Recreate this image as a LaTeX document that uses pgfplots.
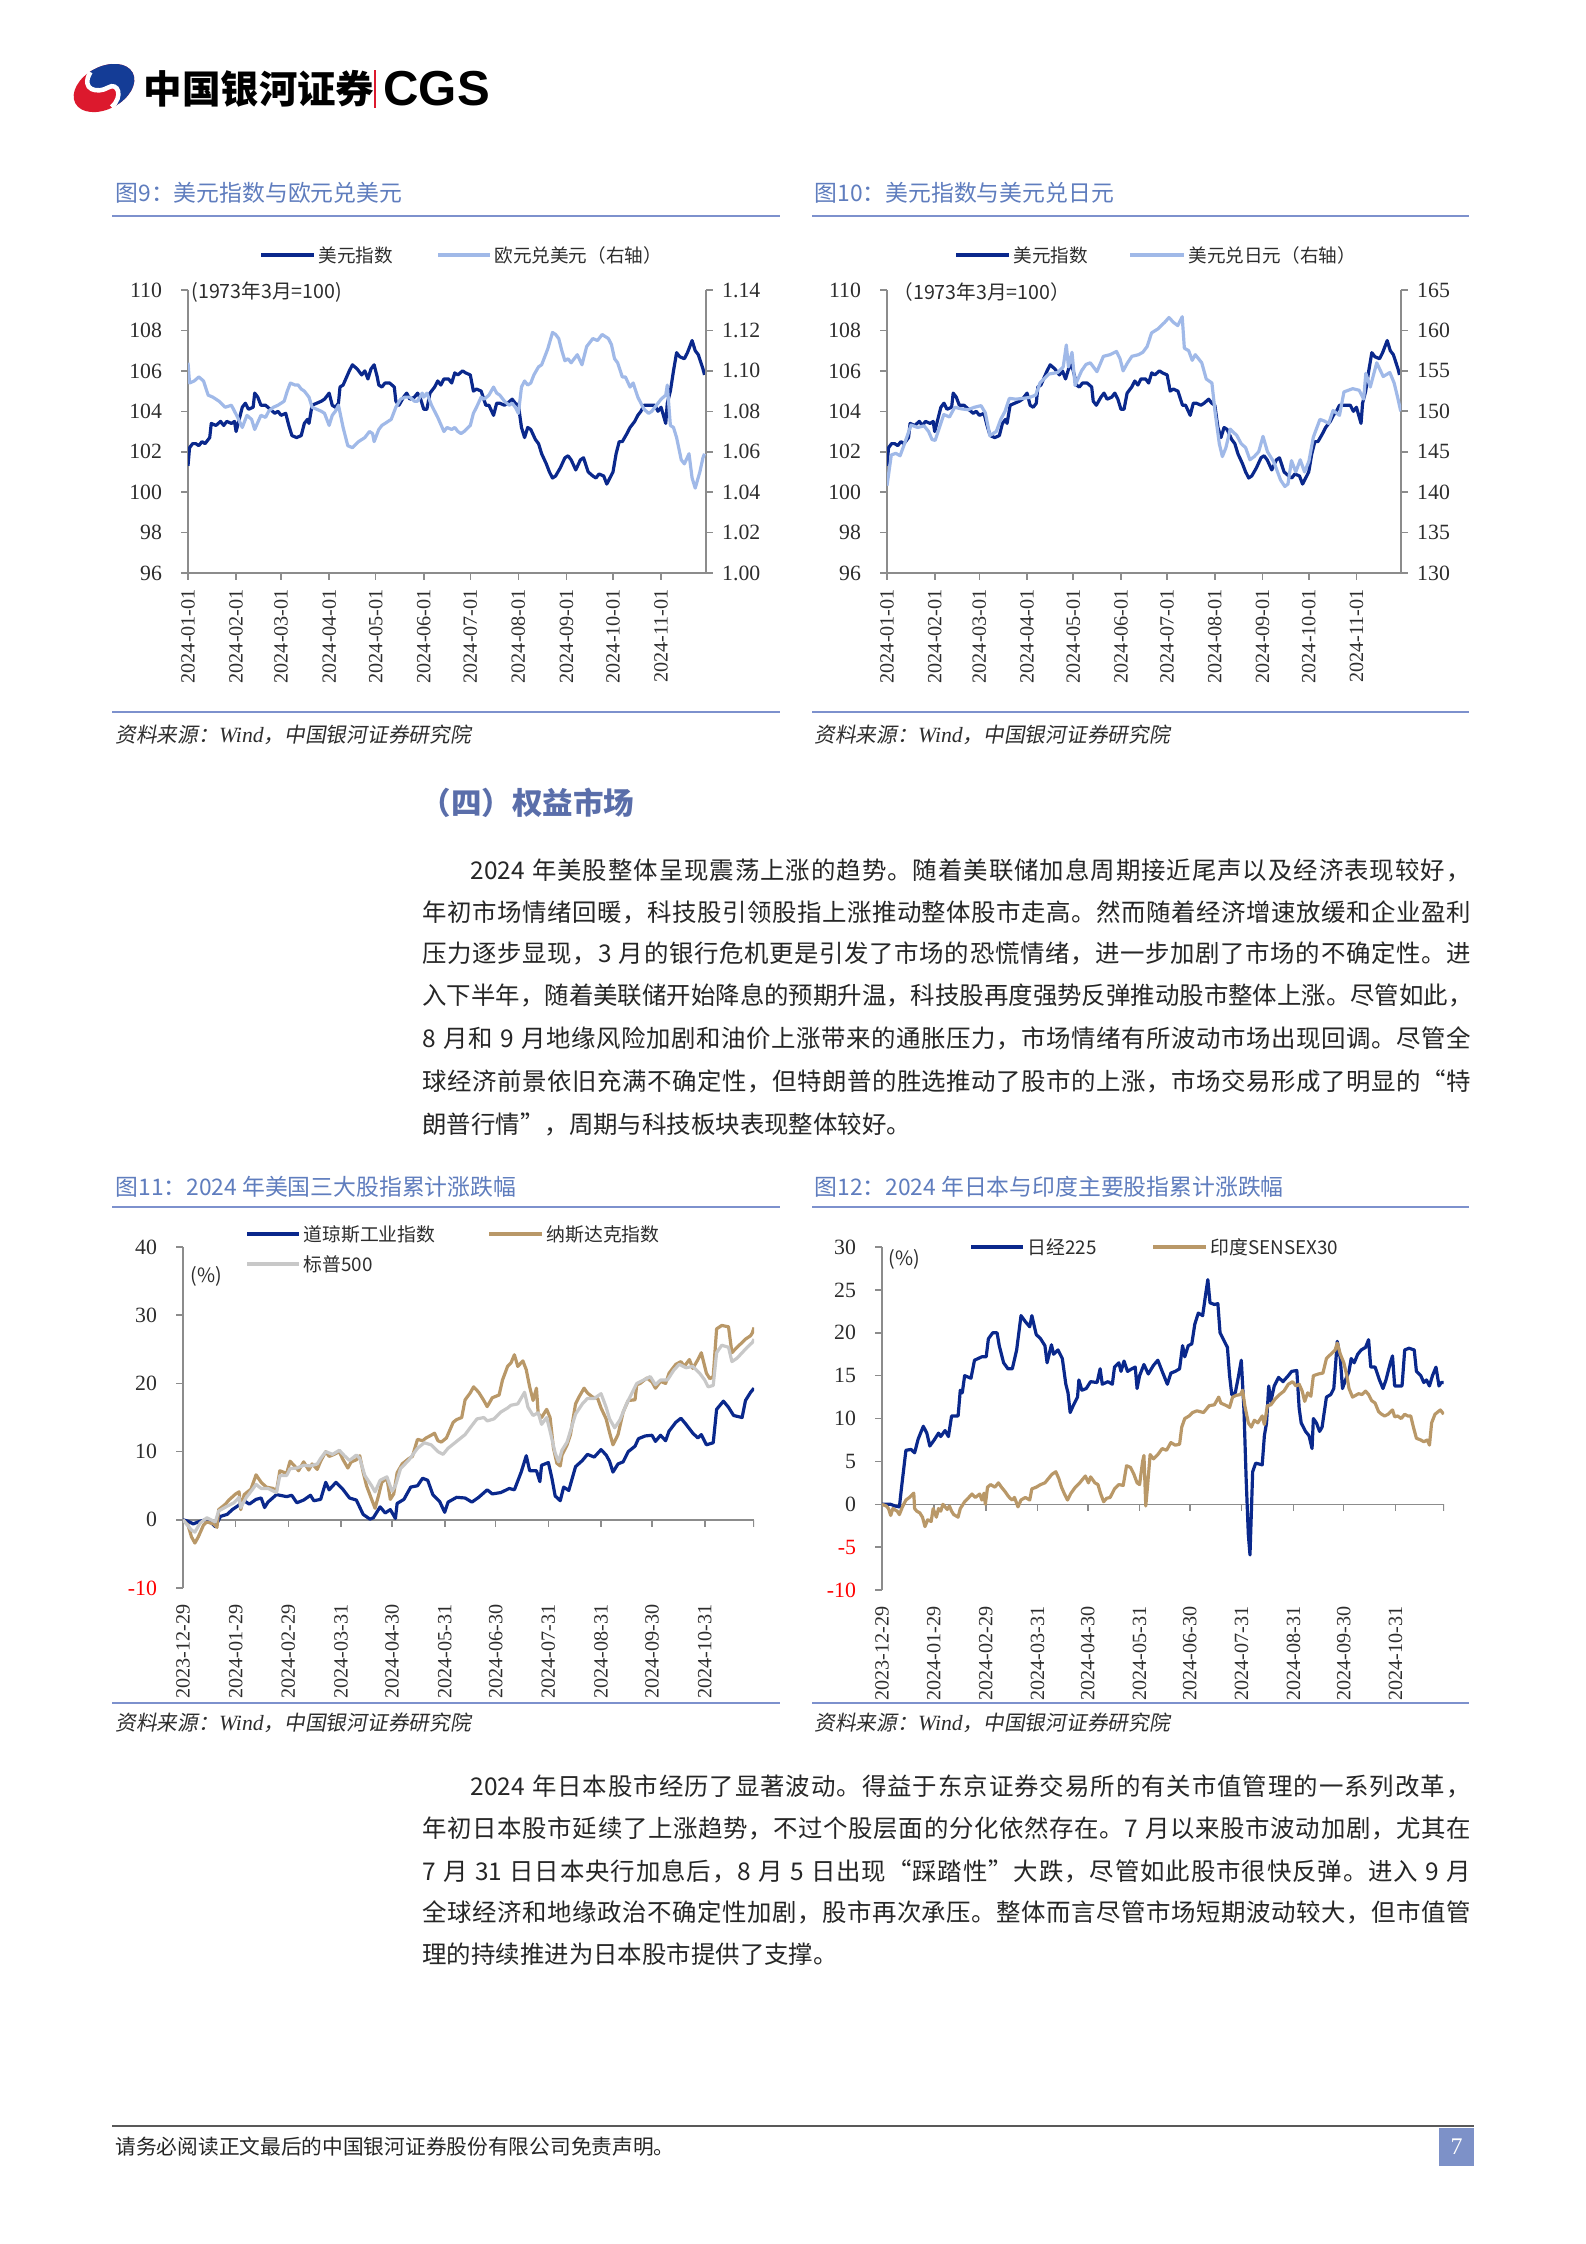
\documentclass[border=0pt]{standalone}
\usepackage{pgfplots}
\pgfplotsset{compat=1.18}
\usepackage{pgfplotstable}
\usepackage{fontspec}
\setmainfont{Liberation Serif}
\newfontfamily\cjk{Noto Sans CJK SC}
\newfontfamily\cjkit[FakeSlant=0.18]{Noto Sans CJK SC}
\newfontfamily\arial{Liberation Sans}
\newcount\cjkc
\cjkc="4E00
\loop \XeTeXcharclass\cjkc=7 \advance\cjkc by 1 \ifnum\cjkc<"A000 \repeat
\XeTeXcharclass"FF0C=7 \XeTeXcharclass"3002=7 \XeTeXcharclass"3001=7
\XeTeXcharclass"201C=7 \XeTeXcharclass"201D=7 \XeTeXcharclass"FF1A=7
\XeTeXcharclass"FF08=7 \XeTeXcharclass"FF09=7
\XeTeXinterchartoks 7 7 = {\hskip 0pt plus 3pt\relax}
\XeTeXinterchartoks 0 7 = {\hskip 0pt plus 3pt\relax}
\XeTeXinterchartoks 7 0 = {\hskip 0pt plus 3pt\relax}
\newcommand\jline[2]{\hbox to #1{\spaceskip=0.3em\relax\XeTeXinterchartokenstate=1 #2}}
\def\pxu{0.132408mm}
\newcommand\fsz[1]{\fontsize{#1}{#1}\selectfont}
\definecolor{navy}{RGB}{10,40,140}
\definecolor{lblue}{RGB}{160,185,232}
\definecolor{gold}{RGB}{185,152,104}
\definecolor{lgray}{RGB}{200,200,200}
\definecolor{ttl}{RGB}{95,125,190}
\definecolor{rulec}{RGB}{125,145,205}
\definecolor{axgray}{RGB}{140,140,140}
\definecolor{txt}{RGB}{45,45,45}
\definecolor{head}{RGB}{90,110,170}
\definecolor{pgbox}{RGB}{125,145,200}
\definecolor{cgsred}{RGB}{220,25,45}
\definecolor{cgsblue}{RGB}{20,60,150}

\pgfplotstableread{
d v
0 101.3
1 102.2
3 102.4
5 102.4
7 102.3
9 102.5
11 102.4
14 102.7
15 103.4
18 103.3
21 103.5
23 103.3
25 103.5
28 103.4
30 103.5
31 103.0
33 103.6
35 104.2
37 104.4
39 104.1
42 104.2
43 104.9
45 104.7
47 104.3
50 104.3
53 104.1
56 103.9
58 104.0
60 103.8
63 103.9
65 103.3
67 102.8
70 102.7
73 102.8
75 103.4
77 103.6
78 103.4
80 104.3
83 104.4
86 104.5
88 104.6
91 104.9
93 104.3
95 104.2
97 104.4
98 105.2
100 105.3
104 106.0
106 106.3
109 106.1
112 105.8
114 106.0
116 105.6
118 106.1
120 106.3
122 105.7
123 105.3
125 105.2
127 105.4
130 105.4
133 105.2
134 104.5
136 104.3
139 104.7
141 104.9
143 104.6
146 104.7
148 104.9
150 104.6
152 104.1
154 104.1
156 104.9
159 105.2
161 105.5
163 105.3
165 105.6
168 105.6
170 105.4
172 105.9
174 105.8
177 106.0
179 105.9
182 105.8
184 105.0
186 105.1
189 105.0
192 104.3
194 104.3
197 103.8
199 104.4
201 104.4
204 104.3
206 104.4
209 104.6
211 104.4
213 104.3
215 103.2
217 102.7
219 103.2
221 103.1
224 102.6
226 102.4
228 101.9
231 101.4
233 101.0
235 100.7
237 100.8
240 101.2
243 101.7
245 101.8
247 101.6
250 101.1
253 101.6
255 101.7
258 101.0
261 100.8
263 100.7
265 100.9
268 100.8
270 100.4
272 100.7
274 101.0
276 101.9
278 102.5
280 102.5
283 102.9
285 103.2
288 103.5
290 103.8
292 104.0
294 104.3
296 104.3
299 104.3
301 104.3
303 104.0
305 104.2
308 103.4
309 104.4
311 105.0
313 106.0
315 106.9
317 106.7
320 106.6
322 106.9
325 107.5
327 107.0
329 106.8
332 106.1
333 105.8
}\dxy

\pgfplotstableread{
d v
0 1.104
1 1.094
4 1.095
7 1.097
10 1.095
13 1.088
16 1.087
20 1.085
24 1.082
28 1.083
30 1.080
32 1.077
35 1.072
38 1.078
41 1.076
43 1.071
47 1.078
50 1.077
52 1.080
55 1.082
58 1.083
62 1.085
64 1.090
66 1.094
69 1.093
71 1.093
73 1.091
75 1.090
78 1.087
80 1.082
83 1.081
86 1.080
88 1.079
91 1.073
93 1.078
95 1.080
97 1.083
100 1.072
103 1.063
106 1.062
110 1.065
114 1.067
117 1.070
119 1.069
120 1.065
123 1.071
125 1.073
127 1.074
131 1.076
134 1.082
137 1.086
140 1.087
143 1.087
146 1.085
148 1.085
151 1.089
152 1.087
154 1.089
157 1.083
159 1.080
161 1.077
165 1.070
167 1.072
170 1.071
172 1.072
174 1.070
176 1.069
178 1.070
182 1.073
184 1.079
186 1.082
189 1.087
191 1.086
194 1.088
197 1.092
199 1.089
201 1.088
204 1.085
207 1.083
209 1.084
211 1.082
213 1.079
215 1.092
217 1.095
219 1.093
221 1.094
223 1.098
226 1.102
228 1.103
232 1.111
235 1.119
237 1.118
239 1.116
241 1.110
243 1.105
245 1.106
247 1.104
249 1.106
251 1.108
254 1.103
257 1.112
259 1.114
261 1.116
264 1.115
267 1.118
269 1.117
271 1.116
273 1.113
275 1.106
277 1.104
280 1.097
282 1.097
285 1.092
287 1.094
290 1.087
292 1.084
294 1.081
297 1.079
299 1.080
301 1.082
303 1.084
305 1.086
308 1.088
309 1.093
311 1.073
313 1.072
315 1.067
318 1.056
320 1.054
323 1.059
325 1.047
327 1.042
330 1.050
332 1.057
333 1.059
}\eur

\pgfplotstableread{
d v
0 140.8
2.8 144.6
5.7 144.8
8.5 144.5
11.4 146.0
15.6 148.3
19.9 148.0
24.1 148.2
27 147.5
29.3 146.5
31.3 146.4
34.1 148.0
36.9 149.6
40.6 149.3
44 150.5
48.3 150.3
52.6 150.2
56.8 150.5
61.1 150.7
63.9 149.8
66.8 147.0
71 147.5
73.9 149.0
76.7 150.0
79.5 151.6
83.8 151.5
88.1 151.6
92.3 151.7
96.6 152.0
99.4 153.5
105.1 154.6
110.8 154.8
114.5 155.5
116.5 158.2
117.9 155.5
120.2 157.3
122.2 153.2
126.4 155.0
129.3 155.8
132.1 156.0
136.4 154.9
140.6 156.8
144.9 157.0
149.1 157.4
151.4 156.5
153.4 155.0
156.3 156.0
159.1 156.8
163.4 157.0
166.2 157.3
169 158.0
171.9 159.7
176.1 160.2
180.4 161.0
183.2 161.6
186.1 161.0
188.9 160.6
191.8 161.7
193.2 157.8
196 157.5
198.3 156.3
200.3 157.0
204.5 156.0
207.4 154.0
211.1 153.5
213.1 150.0
215.9 146.0
217.9 144.4
220.2 145.5
223 147.8
227.3 147.0
230.1 146.0
233 145.5
235.8 144.0
238.6 144.4
241.5 145.0
244.3 146.9
247.2 145.0
251.4 143.7
255.7 141.5
258.5 140.7
260.5 141.0
262.8 143.9
265.6 142.5
268.5 144.0
271.3 142.5
274.1 143.8
277 146.8
281.3 149.0
284.1 148.8
287 148.5
289.8 150.1
294 149.5
296.9 152.4
302.6 152.8
306.8 152.6
309.7 151.5
311.1 154.7
314 153.0
318.2 156.0
322.4 154.3
326.7 154.8
329.5 153.5
331.8 151.7
333.8 150.0
}\jpy

\pgfplotstableread{
d v
0 0
3 -0.2
6 -0.6
9 -0.3
13 0.0
17 -0.5
19 -1.0
22 0.5
26 0.8
29 1.5
32 2.0
36 2.8
39 2.3
43 3.0
46 3.2
48 1.8
50 2.6
55 3.7
61 3.4
64 3.6
67 2.5
71 2.9
75 3.6
77 2.8
81 3.0
84 5.5
86 4.4
90 5.5
94 4.5
98 3.2
102 2.9
106 0.8
110 0.1
112 0.3
116 1.9
119 1.0
122 1.5
125 0.2
126 2.4
130 3.0
134 4.8
138 5.0
141 6.1
144 5.8
147 3.7
151 2.7
154 1.1
156 2.6
161 3.3
166 3.2
170 2.6
174 3.3
179 4.4
182 3.8
187 4.0
192 4.6
195 4.4
199 7.0
202 9.4
204 7.2
208 7.2
210 5.6
211 8.0
215 8.4
217 6.2
219 3.5
222 2.8
224 4.8
227 4.3
231 7.8
235 8.7
238 9.6
242 9.2
246 10.3
249 9.5
251 8.6
253 7.0
256 8.2
259 8.5
262 10.0
266 10.8
268 11.9
272 12.3
276 12.4
278 11.5
281 12.4
284 11.6
286 13.0
290 14.3
293 14.9
296 14.0
300 12.7
303 12.0
305 12.5
308 11.0
312 11.3
314 16.2
318 17.4
321 16.5
324 15.3
329 15.0
331 17.5
334 18.7
335 19.0
336 19.3
}\dow

\pgfplotstableread{
d v
0 0
3 -0.8
5 -2.5
7 -3.4
9 -2.5
12 -0.8
14 -0.3
18 -0.6
20 -1.1
21 1.5
25 2.3
27 2.9
31 3.8
33 4.1
34 1.5
36 3.7
40 4.5
43 6.6
46 5.5
49 4.8
53 4.6
55 4.2
57 7.2
61 6.8
63 8.6
66 7.8
68 7.2
71 8.5
74 7.3
76 8.2
79 7.4
81 8.6
84 10.0
86 9.3
89 9.6
92 10.0
94 8.9
97 7.6
99 8.5
102 8.8
104 9.4
106 7.0
108 5.0
111 3.0
113 1.7
115 3.5
117 5.5
120 6.1
122 3.0
124 3.8
126 6.9
129 8.2
133 9.0
135 9.3
138 11.8
141 11.6
143 12.0
146 12.4
148 12.7
150 11.6
152 11.4
155 12.0
159 14.3
161 14.7
164 15.0
166 17.6
169 18.6
171 19.5
174 18.7
177 17.5
179 16.6
182 17.9
186 18.3
188 20.5
191 22.5
193 23.0
195 24.2
197 22.5
200 23.3
202 22.0
204 19.5
206 17.5
208 19.3
209 15.6
211 15.0
214 16.2
216 15.0
218 10.5
220 8.3
222 7.9
223 9.5
226 11.0
228 12.5
231 17.0
233 18.0
236 19.3
238 18.6
241 18.0
244 17.8
246 16.4
249 14.8
251 12.8
253 11.0
256 12.5
259 15.8
262 17.5
266 17.6
267 19.8
269 20.0
273 20.8
276 20.2
278 19.3
281 20.3
284 20.0
286 21.5
290 22.8
293 23.2
295 22.5
298 23.5
300 22.2
303 23.5
305 24.5
308 21.5
310 20.7
312 21.0
314 28.0
317 28.5
321 28.3
323 24.5
326 25.3
329 26.0
331 26.5
334 27.0
335 27.4
336 28.2
}\nasdaq

\pgfplotstableread{
d v
0 0
5 -1.5
7 -1.8
10 -0.5
14 0.3
19 -0.3
21 1.3
26 2.0
30 2.5
33 3.3
34 1.8
37 3.2
41 4.5
43 5.2
46 4.6
50 4.6
55 4.0
57 6.5
61 6.5
63 7.5
67 7.6
71 8.0
75 7.9
79 8.2
81 9.0
84 10.0
88 9.6
92 10.2
95 9.4
98 8.7
102 9.5
104 9.0
107 6.5
111 5.0
113 4.1
116 5.8
120 6.3
123 4.2
125 5.0
128 7.5
133 8.8
138 10.5
142 11.3
146 11.0
150 10.0
153 9.6
156 10.5
161 11.5
166 12.5
169 13.5
173 14.8
177 15.0
179 14.5
183 14.8
187 15.8
191 16.4
193 16.8
197 17.0
201 18.7
203 16.5
206 15.3
209 15.7
211 14.0
214 15.0
216 13.0
219 9.8
221 8.5
223 10.2
226 11.4
231 15.5
235 17.0
238 17.8
242 17.8
246 18.5
249 16.5
251 14.8
254 13.5
257 14.6
261 17.0
264 18.5
267 20.0
271 20.5
275 21.0
278 19.8
281 20.5
285 20.5
289 22.0
292 22.8
296 22.3
300 22.5
304 21.5
307 20.5
309 19.5
312 19.7
314 24.5
317 25.6
321 25.3
323 23.2
326 23.7
329 24.5
332 25.3
335 26.0
336 26.5
}\spx

\pgfplotstableread{
d v
0 0
5.2 0
7.8 -0.2
10.4 -0.3
11.7 2.0
14.3 6.3
17.4 6.4
19.5 6.0
21.6 7.6
24.7 9.1
26.8 8.3
28.6 6.8
31.2 7.5
33.8 8.3
35.1 7.9
37.7 8.6
39.7 7.9
41.6 10.3
45.5 10.3
46.8 13.3
48 13.0
49.4 15.0
53.2 14.7
55.3 16.8
59.7 17.2
62.3 17.2
63.6 19.3
66.2 20.0
68.8 20.0
70.1 18.5
72.7 16.5
75.3 15.8
77.9 15.8
80.5 18.0
83.1 22.0
85.7 21.3
88.3 20.7
89.6 22.0
92.2 19.8
94.8 19.3
97.4 18.5
98.7 16.5
101.3 18.6
102.6 17.5
105.2 18.0
107.8 17.0
109.9 14.0
111.2 13.0
112.5 10.7
114.3 11.5
116.9 12.5
117.7 14.5
119.5 13.3
122.1 13.5
124.7 14.3
128.6 14.2
130.4 15.8
131.7 14.0
135.1 14.3
137.7 14.0
139 16.0
141.6 16.5
142.9 15.5
144.7 16.7
146.8 15.5
149.4 15.8
151.4 16.0
152.5 13.5
154 15.0
156.6 16.3
159.2 15.2
162.3 16.2
164.9 16.8
167.5 15.5
170.6 14.0
172.7 15.3
175.3 15.5
177.9 15.8
179.7 18.5
181 17.2
183.1 18.5
185.2 18.7
187 21.0
189.1 22.3
191.7 22.0
193.5 24.5
194.8 26.2
196.1 23.5
198.7 23.3
200.8 23.4
202.1 20.0
203.9 19.3
206.5 18.3
207.8 15.0
209.1 12.8
211.2 13.0
213 14.8
214.8 16.8
216.4 11.0
217.7 3.0
219 -3.5
220 -5.9
221.6 3.8
223.4 4.8
227.3 4.6
228.6 8.0
229.9 9.5
231.2 13.8
232.5 12.0
234.5 13.8
237.1 14.8
239.7 14.3
242.9 15.0
244.9 15.5
248 15.6
249.4 11.2
250.6 9.5
253.2 8.5
255.3 8.0
257.1 6.5
257.9 10.0
259.7 9.5
261.6 8.5
263.1 9.0
265.7 12.5
268.3 12.8
270.1 13.5
272.2 19.0
274 17.0
275.3 13.5
277.1 14.5
279.2 15.5
280.5 17.0
282.3 16.5
284.4 17.5
286.5 18.0
289.1 18.3
290.9 19.2
292.2 16.0
294.8 16.0
297.4 14.5
299.5 13.5
301.3 14.5
303.9 16.5
305.2 17.3
306.5 13.8
309.1 13.8
310.9 13.8
312.5 18.0
315.1 18.2
318.2 18.0
319.5 15.5
322.1 15.0
323.9 14.2
325.5 14.5
327.3 13.8
329.1 15.0
331.2 16.0
333 13.8
334.3 14.2
335.8 14.2
}\nikkei

\pgfplotstableread{
d v
0 0
2.6 -0.2
3.9 -0.5
5.2 -1.3
6.5 -0.5
9.1 -0.8
10.4 -1.2
12.2 -0.3
14.3 0.5
16.4 0.8
19 1.3
19.5 -0.5
20.8 -0.8
22.6 -1.0
24.2 -1.5
25.7 -2.6
27.3 -1.8
29.4 -2.0
30.6 -0.5
32.5 -1.5
33.8 -0.5
35.1 -0.8
36.4 0
37.7 -0.3
39 -0.6
40.3 -0.2
41.6 -0.8
42.9 -1.2
45.5 -1.5
46.8 -0.5
49.4 0.3
51.9 0.8
53.8 1.2
55.8 0.8
58.4 1.2
59.7 0.5
61 1.3
61.8 0
63.1 2.0
64.9 2.3
67.5 2.0
69.6 2.5
71.4 2.0
73.5 1.5
75.3 1.0
76.6 0.7
77.9 0.5
79.2 0.8
81.3 -0.3
83.1 0.5
85.7 0.8
88.3 0.5
89.6 1.8
92.2 2.0
94.8 2.3
97.4 2.5
99.5 3.0
101.6 3.5
103.9 3.8
105.7 3.0
107.3 2.0
109.1 1.2
110.9 0.5
113 1.3
115.6 2.0
118.2 2.5
120.3 3.0
121.6 3.3
123.4 2.5
124.7 3.2
127.3 2.5
129.1 2.3
130.6 1.3
132.5 0.3
134.3 0.7
136.4 0.8
139 1.8
141.6 2.3
144.2 2.2
146.2 4.5
148.6 4.3
150.6 3.5
152.5 2.5
154 2.3
155.8 5.0
156.6 5.7
157.7 -0.2
158.7 2.0
160.3 5.8
162.3 5.3
164.9 5.8
167.5 6.5
170.1 6.3
172.7 7.2
175.3 6.9
177.9 7.0
179.2 9.0
181 10.0
183.6 10.3
185.7 10.7
188.3 10.9
192.2 10.7
193.5 11.0
195.6 11.5
198.7 11.6
201.3 12.5
202.6 11.8
206 11.5
207.8 11.3
209.6 12.5
211.7 12.7
214.3 12.8
215.6 13.3
216.9 11.5
219 9.5
220.8 9.0
222.6 9.8
224.7 9.5
227.3 10.3
228.6 9.3
230.4 11.5
232.5 11.6
235.1 12.3
237.7 12.8
240.3 13.2
242.9 14.0
245.5 14.3
247.5 13.8
249.4 14.0
251.2 13.2
252.7 12.0
254.5 13.0
256.4 12.6
257.9 15.0
261 15.2
263.6 15.3
265.7 17.0
268.3 17.5
270.9 18.0
272.2 18.8
274 17.5
276.1 16.5
277.9 15.0
279.2 13.5
281.3 12.5
283.1 12.7
284.9 12.9
287 12.8
289.1 13.2
290.9 12.8
292.7 12.1
294.8 11.8
296.9 10.8
298.7 10.5
300.5 10.3
302.6 10.5
305.2 11.0
306.5 10.2
308.3 10.3
310.4 10.0
312.5 10.5
314.3 10.3
316.1 10.3
317.7 9.0
319.5 7.7
322.1 7.5
323.9 7.3
326 7.5
327.3 6.9
328.6 9.5
330.6 10.5
332.5 10.8
333.8 11.0
335.8 10.5
}\sensex

\pgfplotsset{
  base/.style={scale only axis, anchor=north west,
    axis line style={axgray, line width=0.6pt},
    tick style={axgray, line width=0.6pt},
    major tick length=0.9mm, tick align=outside,
    tick label style={font=\fsz{8.2}, text=txt},
    /pgf/number format/assume math mode=true},
  lefty/.style={yticklabel style={xshift=-1.3mm}},
  dates/.style={xticklabel style={rotate=90, anchor=east, font=\fsz{7.6}}},
  ser/.style={line width=1.2pt, line join=round}
}

\begin{document}
\begin{tikzpicture}
\begin{scope}[x=\pxu,y=-\pxu]
\fill[white] (0,0) rectangle (1586,2244);
% header
\node[anchor=west, inner sep=0] at (143,89) {\cjk\bfseries\fsz{14.5}中国银河证券};
\draw[cgsred, line width=1.1pt] (375,70) -- (375,108);
\node[anchor=west, inner sep=0] at (383,89) {\arial\bfseries\fsz{18.5}CGS};
% chart titles and rules
\node[anchor=west, inner sep=0, text=ttl] at (115,193) {\cjk\fsz{8.6}图9：美元指数与欧元兑美元};
\node[anchor=west, inner sep=0, text=ttl] at (814,193) {\cjk\fsz{8.6}图10：美元指数与美元兑日元};
\draw[rulec, line width=1pt] (112,216) -- (780,216);
\draw[rulec, line width=1pt] (812,216) -- (1469,216);
\draw[rulec, line width=1pt] (112,712) -- (780,712);
\draw[rulec, line width=1pt] (812,712) -- (1469,712);
\node[anchor=west, inner sep=0, text=txt] at (115,735) {\cjkit\fsz{7.8}资料来源：{\itshape\rmfamily\fsz{8.2}Wind}，中国银河证券研究院};
\node[anchor=west, inner sep=0, text=txt] at (814,735) {\cjkit\fsz{7.8}资料来源：{\itshape\rmfamily\fsz{8.2}Wind}，中国银河证券研究院};
% legends chart 1, 2
\draw[navy, line width=1.5pt] (261,255) -- (314,255);
\node[anchor=west, inner sep=0, text=txt] at (318,255) {\cjk\fsz{7}美元指数};
\draw[lblue, line width=1.5pt] (438,255) -- (490,255);
\node[anchor=west, inner sep=0, text=txt] at (494,255) {\cjk\fsz{7}欧元兑美元（右轴）};
\draw[navy, line width=1.5pt] (956,255) -- (1009,255);
\node[anchor=west, inner sep=0, text=txt] at (1013,255) {\cjk\fsz{7}美元指数};
\draw[lblue, line width=1.5pt] (1130,255) -- (1184,255);
\node[anchor=west, inner sep=0, text=txt] at (1188,255) {\cjk\fsz{7}美元兑日元（右轴）};
\node[anchor=west, inner sep=0, text=txt] at (191,292) {\cjk\fsz{7.4}(1973年3月=100)};
\node[anchor=west, inner sep=0, text=txt] at (893,292) {\cjk\fsz{7.4}（1973年3月=100）};
% section heading and paragraphs
\node[anchor=west, inner sep=0, text=head] at (420,803) {\cjk\bfseries\fsz{11.5}（四）权益市场};
\begin{scope}[every node/.style={anchor=west, inner sep=0, text=black!85, font=\cjk\fsz{9.2}}]
\node at (470,870) {\jline{132.4mm}{2024 年美股整体呈现震荡上涨的趋势。随着美联储加息周期接近尾声以及经济表现较好，}};
\node at (422,912) {\jline{138.8mm}{年初市场情绪回暖，科技股引领股指上涨推动整体股市走高。然而随着经济增速放缓和企业盈利}};
\node at (422,953) {\jline{138.8mm}{压力逐步显现，3 月的银行危机更是引发了市场的恐慌情绪，进一步加剧了市场的不确定性。进}};
\node at (422,995) {\jline{138.8mm}{入下半年，随着美联储开始降息的预期升温，科技股再度强势反弹推动股市整体上涨。尽管如此，}};
\node at (422,1038) {\jline{138.8mm}{8 月和 9 月地缘风险加剧和油价上涨带来的通胀压力，市场情绪有所波动市场出现回调。尽管全}};
\node at (422,1081) {\jline{138.8mm}{球经济前景依旧充满不确定性，但特朗普的胜选推动了股市的上涨，市场交易形成了明显的“特}};
\node at (422,1124) {朗普行情”，周期与科技板块表现整体较好。};
\node at (470,1786) {\jline{132.4mm}{2024 年日本股市经历了显著波动。得益于东京证券交易所的有关市值管理的一系列改革，}};
\node at (422,1828) {\jline{138.8mm}{年初日本股市延续了上涨趋势，不过个股层面的分化依然存在。7 月以来股市波动加剧，尤其在}};
\node at (422,1871) {\jline{138.8mm}{7 月 31 日日本央行加息后，8 月 5 日出现“踩踏性”大跌，尽管如此股市很快反弹。进入 9 月}};
\node at (422,1912) {\jline{138.8mm}{全球经济和地缘政治不确定性加剧，股市再次承压。整体而言尽管市场短期波动较大，但市值管}};
\node at (422,1954) {理的持续推进为日本股市提供了支撑。};
\end{scope}
% charts 3, 4 titles
\node[anchor=west, inner sep=0, text=ttl] at (115,1187) {\cjk\fsz{8.6}图11：2024 年美国三大股指累计涨跌幅};
\node[anchor=west, inner sep=0, text=ttl] at (814,1187) {\cjk\fsz{8.6}图12：2024 年日本与印度主要股指累计涨跌幅};
\draw[rulec, line width=1pt] (112,1207) -- (780,1207);
\draw[rulec, line width=1pt] (812,1207) -- (1469,1207);
\draw[rulec, line width=1pt] (112,1703) -- (780,1703);
\draw[rulec, line width=1pt] (812,1703) -- (1469,1703);
\node[anchor=west, inner sep=0, text=txt] at (115,1723) {\cjkit\fsz{7.8}资料来源：{\itshape\rmfamily\fsz{8.2}Wind}，中国银河证券研究院};
\node[anchor=west, inner sep=0, text=txt] at (814,1723) {\cjkit\fsz{7.8}资料来源：{\itshape\rmfamily\fsz{8.2}Wind}，中国银河证券研究院};
% legends chart 3, 4
\draw[navy, line width=1.5pt] (247,1234) -- (299,1234);
\node[anchor=west, inner sep=0, text=txt] at (303,1234) {\cjk\fsz{7.1}道琼斯工业指数};
\draw[gold, line width=1.5pt] (489,1234) -- (542,1234);
\node[anchor=west, inner sep=0, text=txt] at (546,1234) {\cjk\fsz{7.1}纳斯达克指数};
\draw[lgray, line width=1.5pt] (247,1264) -- (299,1264);
\node[anchor=west, inner sep=0, text=txt] at (303,1264) {\cjk\fsz{7.1}标普500};
\draw[navy, line width=1.5pt] (971,1247) -- (1023,1247);
\node[anchor=west, inner sep=0, text=txt] at (1027,1247) {\cjk\fsz{7.1}日经225};
\draw[gold, line width=1.5pt] (1153,1247) -- (1206,1247);
\node[anchor=west, inner sep=0, text=txt] at (1210,1247) {\cjk\fsz{7.1}印度SENSEX30};
\node[anchor=west, inner sep=0, text=txt] at (190,1276) {\cjk\fsz{7.4}(\%)};
\node[anchor=west, inner sep=0, text=txt] at (888,1259) {\cjk\fsz{7.4}(\%)};
% footer
\draw[black!65, line width=0.6pt] (112,2126) -- (1474,2126);
\node[anchor=west, inner sep=0, text=black!85] at (115,2147) {\cjk\fsz{7.8}请务必阅读正文最后的中国银河证券股份有限公司免责声明。};
\fill[pgbox] (1439,2128) rectangle (1474,2166);
\node[text=white, inner sep=0] at (1456.5,2147) {\fsz{9}7};
\end{scope}
% logo
\begin{scope}[shift={({104*\pxu},{-88*\pxu})}, rotate=28]
\fill[cgsred] (0,0) ellipse [x radius=4.3mm, y radius=2.8mm];
\begin{scope}
\clip (0,0) ellipse [x radius=4.3mm, y radius=2.8mm];
\fill[cgsblue] (-0.6mm,3mm) .. controls (-3mm,1.2mm) and (-1mm,-0.3mm) .. (0.5mm,-0.2mm) .. controls (2mm,-0.1mm) and (1.8mm,-2.2mm) .. (-0.3mm,-3mm) -- (5mm,-3mm) -- (5mm,3mm) -- cycle;
\end{scope}
\draw[white, line width=0.6mm] (-0.6mm,2.7mm) .. controls (-3mm,1.2mm) and (-1mm,-0.3mm) .. (0.5mm,-0.2mm) .. controls (2mm,-0.1mm) and (1.8mm,-2.2mm) .. (-0.3mm,-2.7mm);
\end{scope}

% ---- chart 9
\begin{axis}[base, lefty, dates, at={({188*\pxu},{-290*\pxu})}, width=68.59mm, height=37.47mm,
  xmin=0, xmax=334, ymin=96, ymax=110,
  axis x line*=bottom, axis y line*=left,
  ytick={96,98,100,102,104,106,108,110},
  xtick={0,31,60,91,121,152,182,213,244,274,305},
  xticklabels={2024-01-01,2024-02-01,2024-03-01,2024-04-01,2024-05-01,2024-06-01,2024-07-01,2024-08-01,2024-09-01,2024-10-01,2024-11-01}]
\addplot[ser, navy] table[x=d,y=v] {\dxy};
\end{axis}
\begin{axis}[base, at={({188*\pxu},{-290*\pxu})}, width=68.59mm, height=37.47mm,
  xmin=0, xmax=334, ymin=1.00, ymax=1.14,
  axis x line=none, axis y line*=right,
  ytick={1.00,1.02,1.04,1.06,1.08,1.10,1.12,1.14},
  yticklabels={1.00,1.02,1.04,1.06,1.08,1.10,1.12,1.14}]
\addplot[ser, lblue] table[x=d,y=v] {\eur};
\end{axis}
% ---- chart 10
\begin{axis}[base, lefty, dates, at={({887*\pxu},{-290*\pxu})}, width=68.06mm, height=37.47mm,
  xmin=0, xmax=334, ymin=96, ymax=110,
  axis x line*=bottom, axis y line*=left,
  ytick={96,98,100,102,104,106,108,110},
  xtick={0,31,60,91,121,152,182,213,244,274,305},
  xticklabels={2024-01-01,2024-02-01,2024-03-01,2024-04-01,2024-05-01,2024-06-01,2024-07-01,2024-08-01,2024-09-01,2024-10-01,2024-11-01}]
\addplot[ser, navy] table[x=d,y=v] {\dxy};
\end{axis}
\begin{axis}[base, at={({887*\pxu},{-290*\pxu})}, width=68.06mm, height=37.47mm,
  xmin=0, xmax=334, ymin=130, ymax=165,
  axis x line=none, axis y line*=right,
  ytick={130,135,140,145,150,155,160,165}]
\addplot[ser, lblue] table[x=d,y=v] {\jpy};
\end{axis}
% ---- chart 11
\begin{axis}[base, lefty, dates, at={({183*\pxu},{-1247*\pxu})}, width=75.6mm, height=45.15mm,
  xmin=0, xmax=336, ymin=-10, ymax=40,
  axis x line*=bottom, axis y line*=left,
  x axis line style={draw=none}, major x tick style={draw=none},
  ytick={-10,0,10,20,30,40},
  yticklabels={\textcolor{red}{-10},0,10,20,30,40},
  xtick={0,31,62,93,123,154,184,215,246,276,307},
  xticklabels={2023-12-29,2024-01-29,2024-02-29,2024-03-31,2024-04-30,2024-05-31,2024-06-30,2024-07-31,2024-08-31,2024-09-30,2024-10-31}]
\draw[axgray, line width=0.6pt] (axis cs:0,0) -- (axis cs:336,0);
\pgfplotsinvokeforeach{31,62,93,123,154,184,215,246,276,307,336}{
  \draw[axgray, line width=0.6pt] (axis cs:#1,0) -- (axis cs:#1,-1.0);}
\addplot[ser, navy] table[x=d,y=v] {\dow};
\addplot[ser, gold] table[x=d,y=v] {\nasdaq};
\addplot[ser, lgray] table[x=d,y=v] {\spx};
\end{axis}
% ---- chart 12
\begin{axis}[base, lefty, dates, at={({882*\pxu},{-1247*\pxu})}, width=74.41mm, height=45.42mm,
  xmin=0, xmax=336, ymin=-10, ymax=30,
  axis x line*=bottom, axis y line*=left,
  x axis line style={draw=none}, major x tick style={draw=none},
  ytick={-10,-5,0,5,10,15,20,25,30},
  yticklabels={\textcolor{red}{-10},\textcolor{red}{-5},0,5,10,15,20,25,30},
  xtick={0,31,62,93,123,154,184,215,246,276,307},
  xticklabels={2023-12-29,2024-01-29,2024-02-29,2024-03-31,2024-04-30,2024-05-31,2024-06-30,2024-07-31,2024-08-31,2024-09-30,2024-10-31}]
\draw[axgray, line width=0.6pt] (axis cs:0,0) -- (axis cs:336,0);
\pgfplotsinvokeforeach{31,62,93,123,154,184,215,246,276,307,336}{
  \draw[axgray, line width=0.6pt] (axis cs:#1,0) -- (axis cs:#1,-0.8);}
\addplot[ser, navy] table[x=d,y=v] {\nikkei};
\addplot[ser, gold] table[x=d,y=v] {\sensex};
\end{axis}
\end{tikzpicture}
\end{document}
